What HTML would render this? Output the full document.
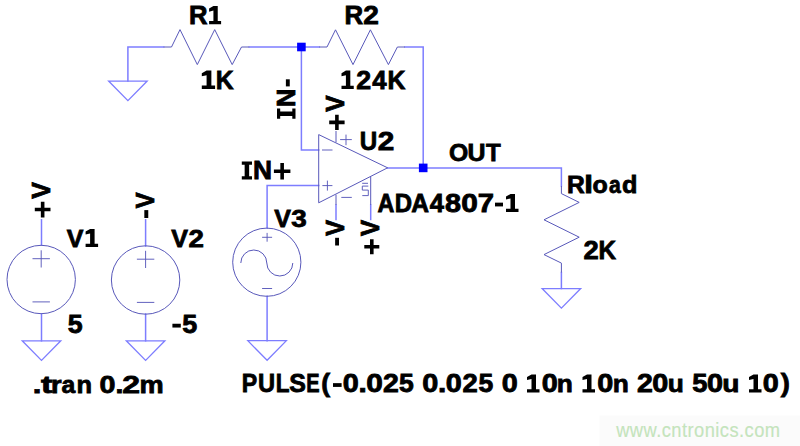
<!DOCTYPE html>
<html><head><meta charset="utf-8"><style>
html,body{margin:0;padding:0;background:#fff;}
svg{display:block;}
text{font-family:"Liberation Sans",sans-serif;}
</style></head><body>
<svg width="800" height="446" viewBox="0 0 800 446">
<rect width="800" height="446" fill="#fff"/>
<rect x="599.5" y="415.5" width="201" height="31" fill="#fbfbfb"/>
<path d="M127.9,81 V47 H163.6" fill="none" stroke="#7d7dff" stroke-width="1.5" stroke-linecap="square"/>
<path d="M249.3,47 H319.3" fill="none" stroke="#7d7dff" stroke-width="1.5" stroke-linecap="square"/>
<path d="M301.4,47 V150 H318.7" fill="none" stroke="#7d7dff" stroke-width="1.5" stroke-linecap="square"/>
<path d="M405,47 H423.2 V167.9" fill="none" stroke="#7d7dff" stroke-width="1.5" stroke-linecap="square"/>
<path d="M387.6,167.9 H561.4 V186" fill="none" stroke="#7d7dff" stroke-width="1.5" stroke-linecap="square"/>
<path d="M561.4,272.5 V288.5" fill="none" stroke="#7d7dff" stroke-width="1.5" stroke-linecap="square"/>
<path d="M318.7,185.5 H267.1 V228" fill="none" stroke="#7d7dff" stroke-width="1.5" stroke-linecap="square"/>
<path d="M267.1,296.3 V340.7" fill="none" stroke="#7d7dff" stroke-width="1.5" stroke-linecap="square"/>
<path d="M41.5,219.8 V245" fill="none" stroke="#7d7dff" stroke-width="1.5" stroke-linecap="square"/>
<path d="M41.5,314 V340.8" fill="none" stroke="#7d7dff" stroke-width="1.5" stroke-linecap="square"/>
<path d="M145.6,219.8 V246" fill="none" stroke="#7d7dff" stroke-width="1.5" stroke-linecap="square"/>
<path d="M145.6,314 V340.8" fill="none" stroke="#7d7dff" stroke-width="1.5" stroke-linecap="square"/>
<path d="M336,205 V219.5" fill="none" stroke="#7d7dff" stroke-width="1.5" stroke-linecap="square"/>
<path d="M370.7,205 V219.5" fill="none" stroke="#7d7dff" stroke-width="1.5" stroke-linecap="square"/>
<rect x="297.10" y="42.70" width="8.6" height="8.6" fill="#0000ff"/>
<rect x="418.90" y="163.60" width="8.6" height="8.6" fill="#0000ff"/>
<path d="M108.60,81 H147.20 L127.90,100.60 Z" fill="none" stroke="#7d7dff" stroke-width="1.25" stroke-linejoin="miter"/>
<path d="M542.10,288.5 H580.70 L561.40,308.10 Z" fill="none" stroke="#7d7dff" stroke-width="1.25" stroke-linejoin="miter"/>
<path d="M22.20,340.8 H60.80 L41.50,360.40 Z" fill="none" stroke="#7d7dff" stroke-width="1.25" stroke-linejoin="miter"/>
<path d="M126.30,340.8 H164.90 L145.60,360.40 Z" fill="none" stroke="#7d7dff" stroke-width="1.25" stroke-linejoin="miter"/>
<path d="M247.80,340.7 H286.40 L267.10,360.30 Z" fill="none" stroke="#7d7dff" stroke-width="1.25" stroke-linejoin="miter"/>
<path d="M163.6,47 H171.5 L180,29.6 L197.3,64.6 L214.7,29.6 L232.2,64.6 L241.5,47 H249.3" fill="none" stroke="#5858ba" stroke-width="1.0" stroke-linejoin="miter"/>
<path d="M319.3,47 H327 L335.5,29.8 L353,64.6 L370.4,29.8 L388.4,64.6 L397.4,47 H405" fill="none" stroke="#5858ba" stroke-width="1.0" stroke-linejoin="miter"/>
<path d="M561.4,186 V193.6 L579.2,202.4 L544,219.8 L579.2,237.2 L544,254.6 L561.4,263.1 V272.5" fill="none" stroke="#5858ba" stroke-width="1.0" stroke-linejoin="miter"/>
<circle cx="41.2" cy="279.5" r="34.2" fill="none" stroke="#5858ba" stroke-width="1.0"/>
<path d="M32.5,258.7 h17.4 M41.2,250.3 v17.2 M32.5,301.9 h17.4" fill="none" stroke="#5858ba" stroke-width="0.95" stroke-linejoin="miter"/>
<circle cx="145.6" cy="280" r="34.2" fill="none" stroke="#5858ba" stroke-width="1.0"/>
<path d="M136.9,259.2 h17.4 M145.6,250.8 v17.2 M136.9,302.4 h17.4" fill="none" stroke="#5858ba" stroke-width="0.95" stroke-linejoin="miter"/>
<circle cx="266.8" cy="262.2" r="34.1" fill="none" stroke="#5858ba" stroke-width="1.0"/>
<path d="M262.1,237.3 h10 M267.1,232.9 v8.8 M262.1,288.5 h10" fill="none" stroke="#5858ba" stroke-width="0.95" stroke-linejoin="miter"/>
<path d="M240.8,263 A13,13 0 0 1 266.8,263 A13,13 0 0 0 292.8,263" fill="none" stroke="#5858ba" stroke-width="1.0" stroke-linejoin="miter"/>
<path d="M318.7,134.6 L387.6,167.8 L318.7,202.8 Z" fill="none" stroke="#5858ba" stroke-width="1.0" stroke-linejoin="miter"/>
<path d="M322,150 H332.5 M322.4,185.6 h10 M327.4,180.6 v10 M340.1,139.6 H351.8 M346,134.6 V145.2 M341.3,197.4 H351.8" fill="none" stroke="#5858ba" stroke-width="0.95" stroke-linejoin="miter"/>
<path d="M336,131 V142.4 M336,194.7 V205 M370.7,176.8 V205" fill="none" stroke="#5858ba" stroke-width="1.0" stroke-linejoin="miter"/>
<path d="M362.2,183.3 h5.8 M368.3,186.1 h-6 v4 h6 v5.5 h-6" fill="none" stroke="#5858ba" stroke-width="0.95" stroke-linejoin="miter"/>
<text transform="translate(0,24.2) translate(188.88,-0.40) scale(1.0153,1)" font-size="25.29" font-weight="bold" fill="#000" stroke="#000" stroke-width="0.8">R</text>
<path transform="translate(0,24.2)" d="M213.42,-18.20 L217.74,-18.20 L217.74,-3.28 L221.10,-3.28 L221.10,0.00 L209.10,0.00 L209.10,-3.28 L213.42,-3.28 L213.42,-13.65 L209.10,-12.56 L209.10,-15.65 Z" fill="#000"/>
<text transform="translate(0,23.9) translate(344.47,-0.40) scale(1.0334,1)" font-size="25.00" font-weight="bold" fill="#000" stroke="#000" stroke-width="0.8">R</text>
<text transform="translate(0,23.9) translate(363.13,-0.40) scale(1.1216,1)" font-size="25.00" font-weight="bold" fill="#000" stroke="#000" stroke-width="0.8">2</text>
<path transform="translate(0,88.9)" d="M206.59,-18.30 L211.38,-18.30 L211.38,-3.29 L215.10,-3.29 L215.10,0.00 L201.80,0.00 L201.80,-3.29 L206.59,-3.29 L206.59,-13.73 L201.80,-12.63 L201.80,-15.74 Z" fill="#000"/>
<text transform="translate(0,88.9) translate(215.84,-0.40) scale(0.9737,1)" font-size="25.44" font-weight="bold" fill="#000" stroke="#000" stroke-width="0.8">K</text>
<path transform="translate(0,89.0)" d="M345.91,-18.40 L350.32,-18.40 L350.32,-3.31 L353.75,-3.31 L353.75,0.00 L341.50,0.00 L341.50,-3.31 L345.91,-3.31 L345.91,-13.80 L341.50,-12.70 L341.50,-15.82 Z" fill="#000"/>
<text transform="translate(0,89.0) translate(356.37,-0.40) scale(1.0474,1)" font-size="25.58" font-weight="bold" fill="#000" stroke="#000" stroke-width="0.8">2</text>
<text transform="translate(0,89.0) translate(372.26,-0.40) scale(1.0107,1)" font-size="25.58" font-weight="bold" fill="#000" stroke="#000" stroke-width="0.8">4</text>
<text transform="translate(0,89.0) translate(387.49,-0.40) scale(0.9712,1)" font-size="25.58" font-weight="bold" fill="#000" stroke="#000" stroke-width="0.8">K</text>
<text transform="translate(0,150.7) translate(359.85,-0.40) scale(0.9538,1)" font-size="25.29" font-weight="bold" fill="#000" stroke="#000" stroke-width="0.8">U</text>
<text transform="translate(0,150.7) translate(377.87,-0.40) scale(1.1744,1)" font-size="25.29" font-weight="bold" fill="#000" stroke="#000" stroke-width="0.8">2</text>
<path transform="translate(0,179.5)" d="M241.80,-18.00 h10.20 v3.2 h-2.85 v11.60 h2.85 v3.2 h-10.20 v-3.2 h2.85 v-11.60 h-2.85 Z" fill="#000"/>
<text transform="translate(0,179.5) translate(252.94,-0.40) scale(1.0546,1)" font-size="25.00" font-weight="bold" fill="#000" stroke="#000" stroke-width="0.8">N</text>
<path transform="translate(0,179.5)" d="M273.90,-10.05 H290.40 V-6.45 H273.90 Z M280.35,-16.50 H283.95 V0 H280.35 Z" fill="#000"/>
<text transform="translate(0,161.8) translate(448.88,-0.40) scale(1.0018,1)" font-size="24.71" font-weight="bold" fill="#000" stroke="#000" stroke-width="0.8">O</text>
<text transform="translate(0,161.8) translate(467.50,-0.40) scale(1.0099,1)" font-size="24.71" font-weight="bold" fill="#000" stroke="#000" stroke-width="0.8">U</text>
<text transform="translate(0,161.8) translate(486.03,-0.40) scale(0.9759,1)" font-size="24.71" font-weight="bold" fill="#000" stroke="#000" stroke-width="0.8">T</text>
<text transform="translate(0,212.0) translate(377.57,-0.40) scale(0.9331,1)" font-size="25.00" font-weight="bold" fill="#000" stroke="#000" stroke-width="0.8">A</text>
<text transform="translate(0,212.0) translate(394.80,-0.40) scale(0.9588,1)" font-size="25.00" font-weight="bold" fill="#000" stroke="#000" stroke-width="0.8">D</text>
<text transform="translate(0,212.0) translate(411.29,-0.40) scale(0.9837,1)" font-size="25.00" font-weight="bold" fill="#000" stroke="#000" stroke-width="0.8">A</text>
<text transform="translate(0,212.0) translate(429.81,-0.40) scale(1.0230,1)" font-size="25.00" font-weight="bold" fill="#000" stroke="#000" stroke-width="0.8">4</text>
<text transform="translate(0,212.0) translate(444.99,-0.40) scale(1.1506,1)" font-size="25.00" font-weight="bold" fill="#000" stroke="#000" stroke-width="0.8">8</text>
<text transform="translate(0,212.0) translate(461.22,-0.40) scale(1.1943,1)" font-size="25.00" font-weight="bold" fill="#000" stroke="#000" stroke-width="0.8">0</text>
<text transform="translate(0,212.0) translate(477.65,-0.40) scale(1.1678,1)" font-size="25.00" font-weight="bold" fill="#000" stroke="#000" stroke-width="0.8">7</text>
<path transform="translate(0,212.0)" d="M495.00,-9.36 H503.00 V-5.58 H495.00 Z" fill="#000"/>
<path transform="translate(0,212.0)" d="M510.50,-18.00 L515.00,-18.00 L515.00,-3.24 L518.50,-3.24 L518.50,0.00 L506.00,0.00 L506.00,-3.24 L510.50,-3.24 L510.50,-13.50 L506.00,-12.42 L506.00,-15.48 Z" fill="#000"/>
<text transform="translate(0,227.8) translate(274.33,-0.40) scale(1.0128,1)" font-size="24.71" font-weight="bold" fill="#000" stroke="#000" stroke-width="0.8">V</text>
<text transform="translate(0,227.8) translate(291.36,-0.40) scale(1.1276,1)" font-size="24.71" font-weight="bold" fill="#000" stroke="#000" stroke-width="0.8">3</text>
<text transform="translate(0,246.9) translate(66.83,-0.40) scale(1.0128,1)" font-size="24.71" font-weight="bold" fill="#000" stroke="#000" stroke-width="0.8">V</text>
<path transform="translate(0,246.9)" d="M90.10,-17.80 L94.60,-17.80 L94.60,-3.20 L98.10,-3.20 L98.10,0.00 L85.60,0.00 L85.60,-3.20 L90.10,-3.20 L90.10,-13.35 L85.60,-12.28 L85.60,-15.31 Z" fill="#000"/>
<text transform="translate(0,246.9) translate(171.13,-0.40) scale(1.0159,1)" font-size="24.71" font-weight="bold" fill="#000" stroke="#000" stroke-width="0.8">V</text>
<text transform="translate(0,246.9) translate(188.54,-0.40) scale(1.1222,1)" font-size="24.71" font-weight="bold" fill="#000" stroke="#000" stroke-width="0.8">2</text>
<text transform="translate(0,259.6) translate(583.45,-0.40) scale(1.0841,1)" font-size="25.29" font-weight="bold" fill="#000" stroke="#000" stroke-width="0.8">2</text>
<text transform="translate(0,259.6) translate(598.57,-0.40) scale(0.9610,1)" font-size="25.29" font-weight="bold" fill="#000" stroke="#000" stroke-width="0.8">K</text>
<text transform="translate(0,193.0) translate(567.06,-0.40) scale(1.0310,1)" font-size="23.84" font-weight="bold" fill="#000" stroke="#000" stroke-width="0.8">R</text>
<text transform="translate(0,193.0) translate(584.31,-0.40) scale(1.3147,1)" font-size="23.84" font-weight="bold" fill="#000" stroke="#000" stroke-width="0.8">l</text>
<text transform="translate(0,193.0) translate(592.52,-0.40) scale(1.0474,0.965)" font-size="23.84" font-weight="bold" fill="#000" stroke="#000" stroke-width="0.8">o</text>
<text transform="translate(0,193.0) translate(608.88,-0.40) scale(0.8890,0.965)" font-size="23.84" font-weight="bold" fill="#000" stroke="#000" stroke-width="0.8">a</text>
<text transform="translate(0,193.0) translate(622.07,-0.40) scale(1.0573,1)" font-size="23.84" font-weight="bold" fill="#000" stroke="#000" stroke-width="0.8">d</text>
<text transform="translate(0,333.2) translate(67.68,-0.40) scale(1.0569,1)" font-size="25.29" font-weight="bold" fill="#000" stroke="#000" stroke-width="0.8">5</text>
<path transform="translate(0,333.2)" d="M172.40,-9.46 H180.80 V-5.64 H172.40 Z" fill="#000"/>
<text transform="translate(0,333.2) translate(182.37,-0.40) scale(1.0649,1)" font-size="25.29" font-weight="bold" fill="#000" stroke="#000" stroke-width="0.8">5</text>
<text transform="translate(0,393.8) translate(32.68,-0.40) scale(1.2619,1)" font-size="24.71" font-weight="bold" fill="#000" stroke="#000" stroke-width="0.8">.</text>
<text transform="translate(0,393.8) translate(40.88,-0.40) scale(1.3901,1)" font-size="24.71" font-weight="bold" fill="#000" stroke="#000" stroke-width="0.8">t</text>
<text transform="translate(0,393.8) translate(50.90,-0.40) scale(1.1033,0.965)" font-size="24.71" font-weight="bold" fill="#000" stroke="#000" stroke-width="0.8">r</text>
<text transform="translate(0,393.8) translate(61.57,-0.40) scale(1.0019,0.965)" font-size="24.71" font-weight="bold" fill="#000" stroke="#000" stroke-width="0.8">a</text>
<text transform="translate(0,393.8) translate(76.42,-0.40) scale(1.0308,0.965)" font-size="24.71" font-weight="bold" fill="#000" stroke="#000" stroke-width="0.8">n</text>
<text transform="translate(0,393.8) translate(99.51,-0.40) scale(1.1615,1)" font-size="24.71" font-weight="bold" fill="#000" stroke="#000" stroke-width="0.8">0</text>
<text transform="translate(0,393.8) translate(115.38,-0.40) scale(1.1472,1)" font-size="24.71" font-weight="bold" fill="#000" stroke="#000" stroke-width="0.8">.</text>
<text transform="translate(0,393.8) translate(122.29,-0.40) scale(1.2945,1)" font-size="24.71" font-weight="bold" fill="#000" stroke="#000" stroke-width="0.8">2</text>
<text transform="translate(0,393.8) translate(139.51,-0.40) scale(1.1005,0.965)" font-size="24.71" font-weight="bold" fill="#000" stroke="#000" stroke-width="0.8">m</text>
<text transform="translate(0,392.5) translate(241.85,-0.40) scale(0.9259,1)" font-size="25.00" font-weight="bold" fill="#000" stroke="#000" stroke-width="0.8">P</text>
<text transform="translate(0,392.5) translate(258.08,-0.40) scale(0.9450,1)" font-size="25.00" font-weight="bold" fill="#000" stroke="#000" stroke-width="0.8">U</text>
<text transform="translate(0,392.5) translate(275.64,-0.40) scale(0.9002,1)" font-size="25.00" font-weight="bold" fill="#000" stroke="#000" stroke-width="0.8">L</text>
<text transform="translate(0,392.5) translate(289.18,-0.40) scale(0.9981,1)" font-size="25.00" font-weight="bold" fill="#000" stroke="#000" stroke-width="0.8">S</text>
<text transform="translate(0,392.5) translate(306.16,-0.40) scale(0.7985,1)" font-size="25.00" font-weight="bold" fill="#000" stroke="#000" stroke-width="0.8">E</text>
<text transform="translate(0,392.5) translate(321.18,-0.40) scale(1.0630,1)" font-size="25.00" font-weight="bold" fill="#000" stroke="#000" stroke-width="0.8">(</text>
<path transform="translate(0,392.5)" d="M333.00,-9.36 H341.60 V-5.58 H333.00 Z" fill="#000"/>
<text transform="translate(0,392.5) translate(342.76,-0.40) scale(1.1522,1)" font-size="25.00" font-weight="bold" fill="#000" stroke="#000" stroke-width="0.8">0</text>
<text transform="translate(0,392.5) translate(358.38,-0.40) scale(1.1905,1)" font-size="25.00" font-weight="bold" fill="#000" stroke="#000" stroke-width="0.8">.</text>
<text transform="translate(0,392.5) translate(366.22,-0.40) scale(1.1943,1)" font-size="25.00" font-weight="bold" fill="#000" stroke="#000" stroke-width="0.8">0</text>
<text transform="translate(0,392.5) translate(382.91,-0.40) scale(1.1382,1)" font-size="25.00" font-weight="bold" fill="#000" stroke="#000" stroke-width="0.8">2</text>
<text transform="translate(0,392.5) translate(399.08,-0.40) scale(1.0612,1)" font-size="25.00" font-weight="bold" fill="#000" stroke="#000" stroke-width="0.8">5</text>
<text transform="translate(0,392.5) translate(422.26,-0.40) scale(1.1522,1)" font-size="25.00" font-weight="bold" fill="#000" stroke="#000" stroke-width="0.8">0</text>
<text transform="translate(0,392.5) translate(437.88,-0.40) scale(1.1905,1)" font-size="25.00" font-weight="bold" fill="#000" stroke="#000" stroke-width="0.8">.</text>
<text transform="translate(0,392.5) translate(445.76,-0.40) scale(1.1522,1)" font-size="25.00" font-weight="bold" fill="#000" stroke="#000" stroke-width="0.8">0</text>
<text transform="translate(0,392.5) translate(462.45,-0.40) scale(1.0967,1)" font-size="25.00" font-weight="bold" fill="#000" stroke="#000" stroke-width="0.8">2</text>
<text transform="translate(0,392.5) translate(478.58,-0.40) scale(1.0612,1)" font-size="25.00" font-weight="bold" fill="#000" stroke="#000" stroke-width="0.8">5</text>
<text transform="translate(0,392.5) translate(501.76,-0.40) scale(1.1522,1)" font-size="25.00" font-weight="bold" fill="#000" stroke="#000" stroke-width="0.8">0</text>
<path transform="translate(0,392.5)" d="M531.50,-18.00 L536.00,-18.00 L536.00,-3.24 L539.50,-3.24 L539.50,0.00 L527.00,0.00 L527.00,-3.24 L531.50,-3.24 L531.50,-13.50 L527.00,-12.42 L527.00,-15.48 Z" fill="#000"/>
<text transform="translate(0,392.5) translate(541.76,-0.40) scale(1.1522,1)" font-size="25.00" font-weight="bold" fill="#000" stroke="#000" stroke-width="0.8">0</text>
<text transform="translate(0,392.5) translate(556.67,-0.40) scale(1.0519,0.965)" font-size="25.00" font-weight="bold" fill="#000" stroke="#000" stroke-width="0.8">n</text>
<path transform="translate(0,392.5)" d="M587.00,-18.00 L591.50,-18.00 L591.50,-3.24 L595.00,-3.24 L595.00,0.00 L582.50,0.00 L582.50,-3.24 L587.00,-3.24 L587.00,-13.50 L582.50,-12.42 L582.50,-15.48 Z" fill="#000"/>
<text transform="translate(0,392.5) translate(597.26,-0.40) scale(1.1522,1)" font-size="25.00" font-weight="bold" fill="#000" stroke="#000" stroke-width="0.8">0</text>
<text transform="translate(0,392.5) translate(612.67,-0.40) scale(1.0519,0.965)" font-size="25.00" font-weight="bold" fill="#000" stroke="#000" stroke-width="0.8">n</text>
<text transform="translate(0,392.5) translate(636.91,-0.40) scale(1.1382,1)" font-size="25.00" font-weight="bold" fill="#000" stroke="#000" stroke-width="0.8">2</text>
<text transform="translate(0,392.5) translate(652.26,-0.40) scale(1.1522,1)" font-size="25.00" font-weight="bold" fill="#000" stroke="#000" stroke-width="0.8">0</text>
<text transform="translate(0,392.5) translate(667.77,-0.40) scale(1.0519,0.965)" font-size="25.00" font-weight="bold" fill="#000" stroke="#000" stroke-width="0.8">u</text>
<text transform="translate(0,392.5) translate(692.16,-0.40) scale(1.0933,1)" font-size="25.00" font-weight="bold" fill="#000" stroke="#000" stroke-width="0.8">5</text>
<text transform="translate(0,392.5) translate(706.96,-0.40) scale(1.1522,1)" font-size="25.00" font-weight="bold" fill="#000" stroke="#000" stroke-width="0.8">0</text>
<text transform="translate(0,392.5) translate(722.15,-0.40) scale(1.1265,0.965)" font-size="25.00" font-weight="bold" fill="#000" stroke="#000" stroke-width="0.8">u</text>
<path transform="translate(0,392.5)" d="M753.50,-18.00 L758.00,-18.00 L758.00,-3.24 L761.50,-3.24 L761.50,0.00 L749.00,0.00 L749.00,-3.24 L753.50,-3.24 L753.50,-13.50 L749.00,-12.42 L749.00,-15.48 Z" fill="#000"/>
<text transform="translate(0,392.5) translate(762.76,-0.40) scale(1.1522,1)" font-size="25.00" font-weight="bold" fill="#000" stroke="#000" stroke-width="0.8">0</text>
<text transform="translate(0,392.5) translate(780.87,-0.40) scale(1.0913,1)" font-size="25.00" font-weight="bold" fill="#000" stroke="#000" stroke-width="0.8">)</text>
<path transform="translate(295.5,0) rotate(-90)" d="M-118.70,-18.50 h10.10 v3.2 h-2.80 v12.10 h2.80 v3.2 h-10.10 v-3.2 h2.80 v-12.10 h-2.80 Z" fill="#000"/>
<text transform="translate(295.5,0) rotate(-90) translate(-106.98,-0.40) scale(0.9785,1)" font-size="25.73" font-weight="bold" fill="#000" stroke="#000" stroke-width="0.8">N</text>
<path transform="translate(295.5,0) rotate(-90)" d="M-86.40,-9.62 H-79.30 V-5.74 H-86.40 Z" fill="#000"/>
<path transform="translate(344.6,0) rotate(-90)" d="M-130.10,-9.50 H-114.70 V-5.90 H-130.10 Z M-124.20,-15.40 H-120.60 V0 H-124.20 Z" fill="#000"/>
<text transform="translate(344.6,0) rotate(-90) translate(-111.77,-0.40) scale(0.9573,1)" font-size="25.58" font-weight="bold" fill="#000" stroke="#000" stroke-width="0.8">V</text>
<path transform="translate(344.8,0) rotate(-90)" d="M-245.50,-9.67 H-237.80 V-5.77 H-245.50 Z" fill="#000"/>
<text transform="translate(344.8,0) rotate(-90) translate(-236.07,-0.40) scale(0.9347,1)" font-size="25.87" font-weight="bold" fill="#000" stroke="#000" stroke-width="0.8">V</text>
<path transform="translate(379.3,0) rotate(-90)" d="M-254.30,-9.30 H-239.30 V-5.70 H-254.30 Z M-248.60,-15.00 H-245.00 V0 H-248.60 Z" fill="#000"/>
<text transform="translate(379.3,0) rotate(-90) translate(-236.07,-0.40) scale(0.9400,1)" font-size="25.73" font-weight="bold" fill="#000" stroke="#000" stroke-width="0.8">V</text>
<path transform="translate(50.5,0) rotate(-90)" d="M-217.40,-9.65 H-201.70 V-6.05 H-217.40 Z M-211.35,-15.70 H-207.75 V0 H-211.35 Z" fill="#000"/>
<text transform="translate(50.5,0) rotate(-90) translate(-198.87,-0.40) scale(0.9589,1)" font-size="26.02" font-weight="bold" fill="#000" stroke="#000" stroke-width="0.8">V</text>
<path transform="translate(154.1,0) rotate(-90)" d="M-218.00,-9.78 H-210.10 V-5.83 H-218.00 Z" fill="#000"/>
<text transform="translate(154.1,0) rotate(-90) translate(-208.57,-0.40) scale(0.9244,1)" font-size="26.16" font-weight="bold" fill="#000" stroke="#000" stroke-width="0.8">V</text>
<text transform="translate(616.20,436.62) scale(0.9000,1)" letter-spacing="0.500" font-size="20.35" font-weight="normal" fill="#c4e4bc" stroke="#c4e4bc" stroke-width="0.150" font-family="Liberation Sans">www.cntronics.com</text>
</svg>
</body></html>
